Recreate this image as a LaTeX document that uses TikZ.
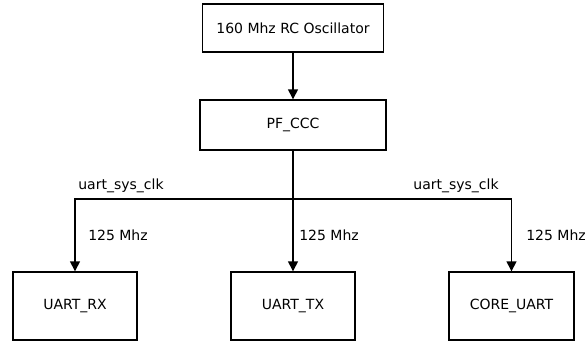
\documentclass[tikz,border=0pt]{standalone}
\usepackage{fontspec}
\setmainfont{DejaVu Sans}
\usetikzlibrary{arrows.meta}
\tikzset{
  block/.style={draw, line width=1.4pt, align=center, font=\fontsize{14}{16}\selectfont},
  clkarrow/.style={-{Triangle[length=10pt,width=10pt]}, line width=1.4pt},
  lbl/.style={font=\fontsize{14}{16}\selectfont, inner sep=1pt},
}
\begin{document}
\begin{tikzpicture}[x=1pt, y=-1pt]
\useasboundingbox (0,0) rectangle (585,343);
\node[block, minimum width=181pt, minimum height=48pt] (osc) at (293,28) {160 Mhz RC Oscillator};
\node[block, minimum width=186pt, minimum height=50pt] (ccc) at (293,125) {PF\_CCC};
\node[block, minimum width=124pt, minimum height=68pt] (rx)   at (75,306)  {UART\_RX};
\node[block, minimum width=124pt, minimum height=68pt] (tx)   at (293,306) {UART\_TX};
\node[block, minimum width=125pt, minimum height=68pt] (core) at (511.5,306) {CORE\_UART};
\coordinate (bus) at (293,199);
\draw[clkarrow] (osc) -- (ccc);
\draw[line width=1.4pt] (ccc) -- (bus);
\draw[clkarrow] (bus) -| (rx);
\draw[clkarrow] (bus) -- (tx);
\draw[clkarrow] (bus) -| (core);
\node[lbl] (clkleft)  at (121,186) {uart\_sys\_clk};
\node[lbl] (clkright) at (456,186) {uart\_sys\_clk};
\node[lbl] (frx)   at (118,235) {125 Mhz};
\node[lbl] (ftx)   at (329,235) {125 Mhz};
\node[lbl] (fcore) at (556,235) {125 Mhz};
\end{tikzpicture}
\end{document}
